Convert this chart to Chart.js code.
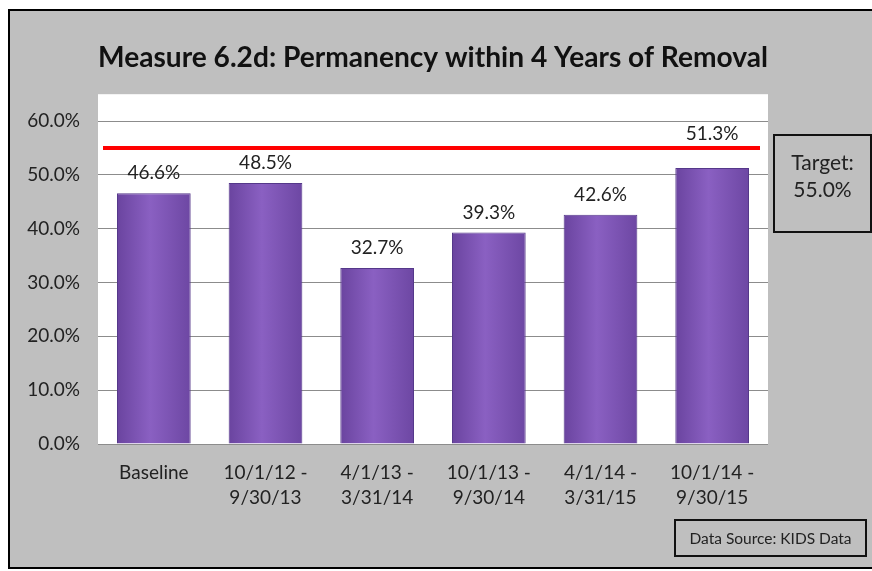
<!DOCTYPE html>
<html>
<head>
<meta charset="utf-8">
<script src="https://cdn.jsdelivr.net/npm/chart.js@4.4.1/dist/chart.umd.min.js"></script>
<style>
  body { margin: 0; background: #fff; width: 872px; height: 571px; overflow: hidden; position: relative; font-family: Lato, "Open Sans", sans-serif; }
  #frame { position: absolute; left: 8px; top: 9px; width: 900px; height: 556px; border: 2px solid #000; background: #bfbfbf; }
  #wrap { position: absolute; left: 0; top: 0; width: 872px; height: 571px; }
  .box { position: absolute; border: 2px solid #111; color: #222; text-align: center; box-sizing: border-box; }
  #target { left: 773px; top: 134px; width: 99px; height: 99px; font-size: 21px; line-height: 27px; padding-top: 12px; }
  #source { left: 674px; top: 519px; width: 193px; height: 38px; font-size: 15.5px; line-height: 34px; }
</style>
</head>
<body>
<div id="frame"></div>
<div id="wrap"><canvas id="chart" width="872" height="571"></canvas></div>
<div class="box" id="target">Target:<br>55.0%</div>
<div class="box" id="source">Data Source: KIDS Data</div>
<script>
// values (percent)
const periods = [["Baseline"], ["10/1/12 -", "9/30/13"], ["4/1/13 -", "3/31/14"], ["10/1/13 -", "9/30/14"], ["4/1/14 -", "3/31/15"], ["10/1/14 -", "9/30/15"]];
const permanency = [46.6, 48.5, 32.7, 39.3, 42.6, 51.3];
const target = 55.0;
const yTicks = [0, 10, 20, 30, 40, 50, 60];

const fontFamily = "Lato, 'Open Sans', sans-serif";

// white plot background
const plotBg = {
  id: "plotBg",
  beforeDraw(chart) {
    const { ctx, chartArea: a } = chart;
    ctx.save();
    ctx.fillStyle = "#ffffff";
    ctx.fillRect(a.left, a.top, a.right - a.left, a.bottom - a.top);
    ctx.restore();
  }
};

// red target line + value labels
const extras = {
  id: "extras",
  afterDatasetsDraw(chart) {
    const { ctx, chartArea: a, scales } = chart;
    const ty = scales.y.getPixelForValue(target);
    ctx.save();
    ctx.strokeStyle = "#ff0000";
    ctx.lineWidth = 4;
    ctx.beginPath();
    ctx.moveTo(a.left + 5, ty);
    ctx.lineTo(a.right - 8, ty);
    ctx.stroke();

    ctx.fillStyle = "#222";
    ctx.font = "19px " + fontFamily;
    ctx.textAlign = "center";
    ctx.textBaseline = "middle";
    const meta = chart.getDatasetMeta(0);
    meta.data.forEach((bar, i) => {
      let y = bar.y - 20;
      // keep the label clear of the target line
      if (Math.abs(y - ty) < 10) y = ty - 14;
      ctx.fillText(permanency[i].toFixed(1) + "%", bar.x, y);
    });
    ctx.restore();
  }
};

function barFill(c) {
  const chart = c.chart;
  if (!chart.chartArea || !chart.scales.x) return "#7d55b3";
  const x = chart.scales.x.getPixelForValue(c.dataIndex);
  const w = chart.scales.x.width / periods.length * 0.66;
  const g = chart.ctx.createLinearGradient(x - w / 2, 0, x + w / 2, 0);
  g.addColorStop(0, "#6a449f");
  g.addColorStop(0.45, "#8a60c2");
  g.addColorStop(1, "#6d47a3");
  return g;
}

new Chart(document.getElementById("chart"), {
  type: "bar",
  data: {
    labels: periods,
    datasets: [{
      data: permanency,
      backgroundColor: barFill,
      borderColor: "#55388a",
      borderWidth: 1,
      barPercentage: 0.66,
      categoryPercentage: 1
    }]
  },
  plugins: [plotBg, extras],
  options: {
    responsive: false,
    animation: false,
    layout: { padding: { left: 0, right: 104, top: 0, bottom: 0 } },
    plugins: {
      legend: { display: false },
      tooltip: { enabled: false },
      title: {
        display: true,
        fullSize: false,
        text: "Measure 6.2d: Permanency within 4 Years of Removal",
        color: "#111",
        font: { family: fontFamily, size: 28.5, weight: "bold", lineHeight: 1.2 },
        padding: { top: 41, bottom: 19 }
      }
    },
    scales: {
      x: {
        grid: { display: false, drawTicks: false },
        border: { display: false },
        ticks: {
          color: "#222",
          font: { family: fontFamily, size: 19, lineHeight: 1.3 },
          padding: 17,
          maxRotation: 0,
          autoSkip: false
        },
        afterFit(s) { s.height = 571 - 444; }
      },
      y: {
        min: 0,
        max: 65,
        border: { display: false },
        grid: { color: "#8c8c8c", lineWidth: 1, drawTicks: false },
        ticks: {
          stepSize: 10,
          includeBounds: false,
          color: "#222",
          padding: 18,
          font: { family: fontFamily, size: 19 },
          callback: (v) => yTicks.includes(v) ? v.toFixed(1) + "%" : ""
        },
        afterFit(s) { s.width = 98; }
      }
    }
  }
});
</script>
</body>
</html>
